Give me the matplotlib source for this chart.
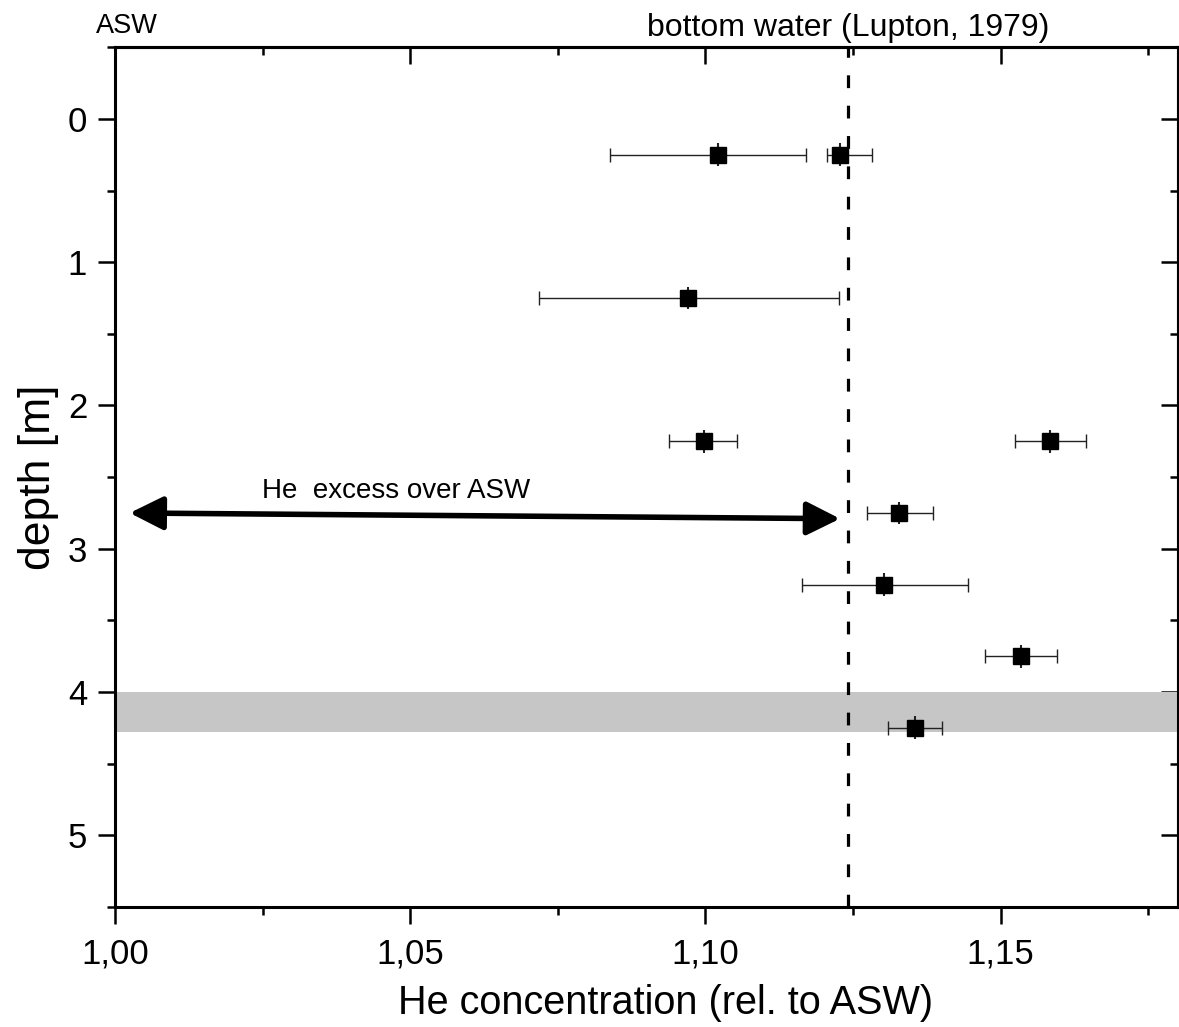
import numpy as np
import matplotlib
matplotlib.use("Agg")
import matplotlib.pyplot as plt
from matplotlib.ticker import MultipleLocator, FuncFormatter

plt.rcParams['font.family'] = ['Liberation Sans', 'DejaVu Sans']

# datos
depth = [0.25, 0.25, 1.25, 2.25, 2.25, 2.75, 3.25, 3.75, 4.25]
he_conc = [1.1022, 1.1228, 1.0971, 1.0997, 1.1583, 1.1328, 1.1302, 1.1534, 1.1355]
he_lo = [1.0838, 1.1206, 1.0718, 1.0938, 1.1525, 1.1274, 1.1164, 1.1473, 1.1309]
he_hi = [1.1171, 1.1282, 1.1226, 1.1054, 1.1644, 1.1385, 1.1444, 1.1595, 1.1400]
depth_err = [0.08] * 9

bottom_water = 1.1242          # Lupton, 1979
band = (4.0, 4.28)             # franja gris
arrow_start = (1.0025, 2.75)
arrow_end = (1.1228, 2.79)

x = np.array(he_conc)
xerr = [x - np.array(he_lo), np.array(he_hi) - x]

fig = plt.figure(figsize=(11.79, 10.27), dpi=100)
ax = fig.add_axes([0.0975, 0.1168, 0.9015, 0.8372])

ax.axhspan(band[0], band[1], color='#c6c6c6', lw=0, zorder=1)
ax.axvline(bottom_water, color='k', lw=2.3, dashes=(4, 5.5), zorder=2)

# barras de error
ax.errorbar(x, depth, xerr=xerr, fmt='none', ecolor='#222222', elinewidth=1.0,
            capsize=5, capthick=1.0, zorder=3)
ax.errorbar(x, depth, yerr=depth_err, fmt='none', ecolor='#222222', elinewidth=1.5,
            capsize=0, zorder=3)
ax.plot(x, depth, 's', color='k', ms=12, zorder=4)

# flecha doble
ax.annotate('', xy=arrow_end, xytext=arrow_start,
            arrowprops=dict(arrowstyle='<|-|>,head_length=0.6,head_width=0.3',
                            mutation_scale=34, lw=4, color='k',
                            shrinkA=0, shrinkB=0), zorder=5)
ax.text(1.0476, 2.60, 'He  excess over ASW', fontsize=20, ha='center', va='center')

ax.set_xlim(1.0, 1.18)
ax.set_ylim(5.5, -0.5)

ax.xaxis.set_major_locator(MultipleLocator(0.05))
ax.xaxis.set_minor_locator(MultipleLocator(0.025))
ax.yaxis.set_major_locator(MultipleLocator(1))
ax.yaxis.set_minor_locator(MultipleLocator(0.5))
ax.xaxis.set_major_formatter(FuncFormatter(lambda v, p: f'{v:.2f}'.replace('.', ',')))

ax.tick_params(which='major', direction='out', length=12, width=1.8, labelsize=25, pad=8)
ax.tick_params(which='minor', direction='out', length=6, width=1.8)
ax.tick_params(axis='x', which='major', pad=10)

for s in ax.spines.values():
    s.set_linewidth(2.2)

# ticks interiores arriba y a la derecha
top = ax.secondary_xaxis('top')
top.xaxis.set_major_locator(MultipleLocator(0.05))
top.xaxis.set_minor_locator(MultipleLocator(0.025))
top.tick_params(which='major', direction='in', length=12, width=1.8, labeltop=False)
top.tick_params(which='minor', direction='in', length=6, width=1.8)
top.spines['top'].set_linewidth(2.2)
right = ax.secondary_yaxis('right')
right.yaxis.set_major_locator(MultipleLocator(1))
right.yaxis.set_minor_locator(MultipleLocator(0.5))
right.tick_params(which='major', direction='in', length=12, width=1.8, labelright=False)
right.tick_params(which='minor', direction='in', length=6, width=1.8)
right.spines['right'].set_linewidth(2.2)

ax.set_xlabel('He concentration (rel. to ASW)', fontsize=28.5, labelpad=10, x=0.518)
ax.set_ylabel('depth [m]', fontsize=32, labelpad=6)

fig.text(0.081, 0.975, 'ASW', fontsize=19.5, ha='left', va='center')
ax.text(bottom_water, 1.022, 'bottom water (Lupton, 1979)', fontsize=23,
        ha='center', va='center', transform=ax.get_xaxis_transform())

fig.savefig('out.png', dpi=100)
